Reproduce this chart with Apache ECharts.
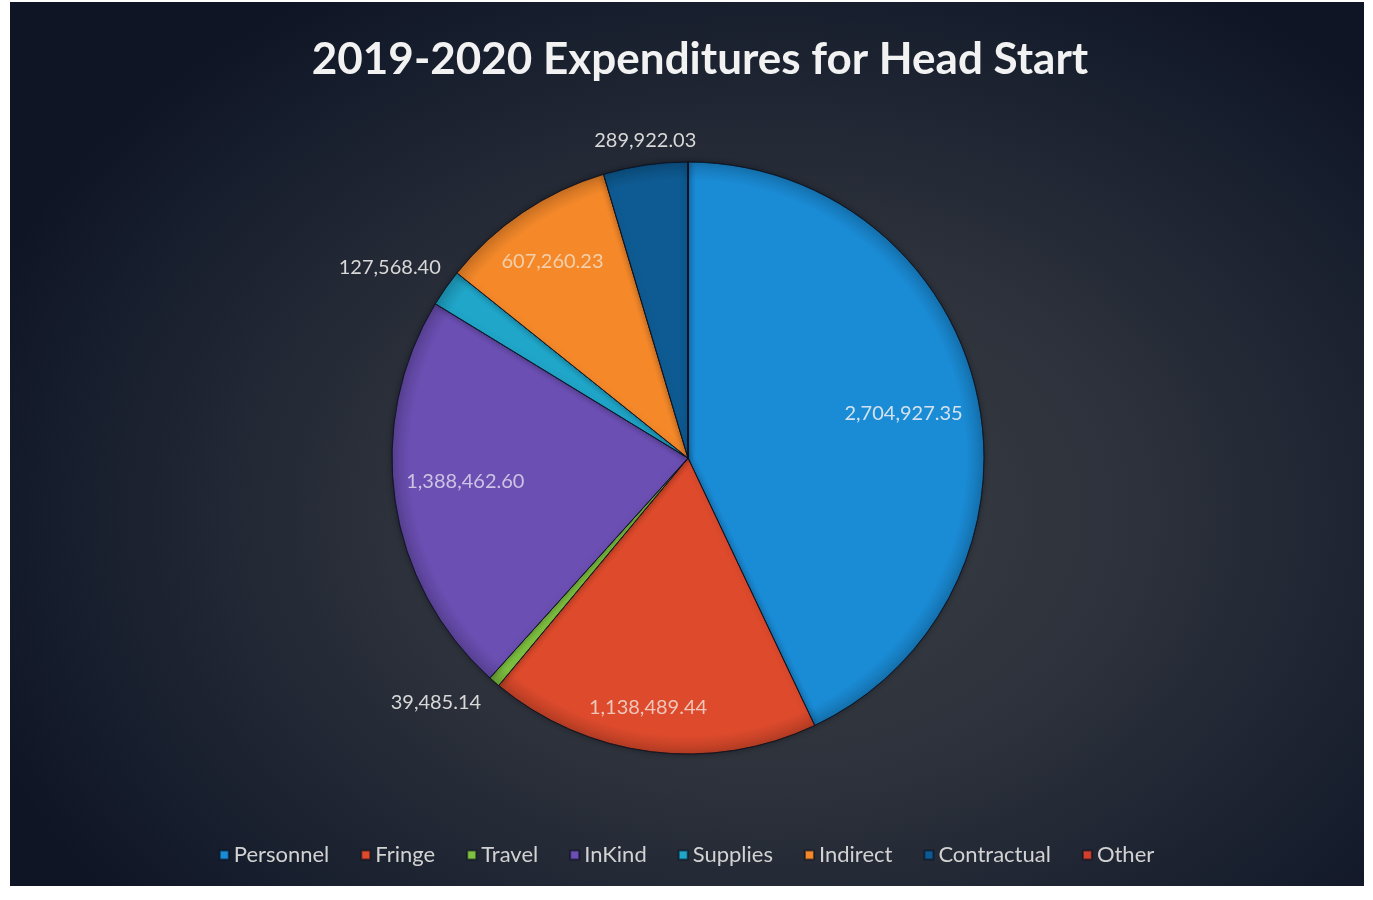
<!DOCTYPE html>
<html>
<head>
<meta charset="utf-8">
<title>2019-2020 Expenditures for Head Start</title>
<script src="https://cdn.jsdelivr.net/npm/echarts@6/dist/echarts.min.js"></script>
<style>
  html, body { margin: 0; padding: 0; background: #ffffff; }
  .panel {
    position: absolute; left: 10px; top: 2px; width: 1354px; height: 884px;
    background: radial-gradient(ellipse 62% 70% at 56% 58%, #3c3f44 0%, #2c313b 45%, #161d2c 85%, #0f1524 100%);
  }
  #chart { position: absolute; left: 0; top: 0; width: 1373px; height: 900px; }
</style>
</head>
<body>
<div class="panel"></div>
<div id="chart"></div>
<script>
// chart data
const categories = ['Personnel', 'Fringe', 'Travel', 'InKind', 'Supplies', 'Indirect', 'Contractual', 'Other']
const amounts = [2704927.35, 1138489.44, 39485.14, 1388462.60, 127568.40, 607260.23, 289922.03, 0]
const colors = ['#1a8bd5', '#dd4a2c', '#7fc241', '#6b4fb3', '#20a6c9', '#f5892a', '#0e5b93', '#d0402c']
const labelColors = ['#d3e2ef', '#f0c6bb', '#d8d8d8', '#cdc4e4', '#d8d8d8', '#f3d0ad', '#d8d8d8', '#d8d8d8']
// where each value label goes: inside the slice, just outside the pie, or none
const labelPlace = ['in', 'in', 'out', 'in', 'out', 'in', 'out', 'none']
// small nudges to sit labels where the original put them (px left, px down)
const labelLeft = [4, 24, 80, 4, 66, 22, -8, 0]
const labelDown = [4, 28, 0, -9, -4, -11, 3, 0]

const cx = 688
const cy = 458
const R = 296

const chart = echarts.init(document.getElementById('chart'))

function fmt(v) {
  return v.toLocaleString('en-US', { minimumFractionDigits: 2, maximumFractionDigits: 2 })
}

function darker(hex, k) {
  const n = parseInt(hex.slice(1), 16)
  const r = Math.round(((n >> 16) & 255) * k)
  const g = Math.round(((n >> 8) & 255) * k)
  const b = Math.round((n & 255) * k)
  return `rgb(${r},${g},${b})`
}

function shade(c) {
  return {
    type: 'radial', x: cx, y: cy, r: R, global: true,
    colorStops: [
      { offset: 0, color: c },
      { offset: 0.94, color: c },
      { offset: 1, color: darker(c, 0.82) },
    ],
  }
}

const pieData = categories.map((name, i) => ({
  name,
  value: amounts[i],
  itemStyle: { color: shade(colors[i]) },
}))

function labelText(p) {
  const d = labelDown[p.dataIndex]
  const v = `{v|${fmt(p.value)}}`
  if (!d) return v
  return d > 0 ? `{s| }\n${v}` : `${v}\n{s| }`
}

function labelRing(place) {
  return categories.map((name, i) => {
    const l = labelLeft[i]
    const gap = Math.abs(labelDown[i]) * 2
    return {
      name,
      value: amounts[i],
      itemStyle: { color: 'rgba(0,0,0,0)' },
      label: {
        show: labelPlace[i] === place,
        padding: l >= 0 ? [0, l, 0, 0] : [0, 0, 0, -l],
        rich: {
          v: { color: labelColors[i], fontFamily: 'Lato', fontSize: 20 },
          s: { fontSize: 1, height: gap, lineHeight: gap },
        },
      },
    }
  })
}

const labelSeries = (radius, place) => ({
  type: 'pie',
  center: [cx, cy],
  radius,
  startAngle: 90,
  clockwise: true,
  silent: true,
  legendHoverLink: false,
  data: labelRing(place),
  label: {
    position: 'inside',
    fontFamily: 'Lato',
    fontSize: 20,
    formatter: labelText,
  },
  labelLine: { show: false },
})

const option = {
  backgroundColor: 'transparent',
  color: colors,
  title: {
    text: '2019-2020 Expenditures for Head Start',
    left: 695,
    top: 33,
    textAlign: 'center',
    textStyle: {
      fontFamily: 'Lato',
      fontWeight: 'bold',
      fontSize: 44,
      color: '#f2f2f2',
    },
  },
  legend: {
    data: categories.map((name, i) => ({ name, itemStyle: { color: colors[i] } })),
    left: 'center',
    top: 839,
    icon: 'rect',
    itemWidth: 9,
    itemHeight: 9,
    itemGap: 31,
    textStyle: { fontFamily: 'Lato', fontSize: 22, color: '#d2d2d2' },
  },
  series: [
    {
      type: 'pie',
      center: [cx, cy],
      radius: R,
      startAngle: 90,
      clockwise: true,
      silent: true,
      data: pieData,
      itemStyle: {
        borderColor: 'rgba(10,15,30,0.6)',
        borderWidth: 1,
        shadowBlur: 6,
        shadowColor: 'rgba(0,0,0,0.35)',
      },
      label: { show: false },
      labelLine: { show: false },
    },
    labelSeries([180, 260], 'in'),
    labelSeries([300, 342], 'out'),
  ],
}

chart.setOption(option)
</script>
</body>
</html>
